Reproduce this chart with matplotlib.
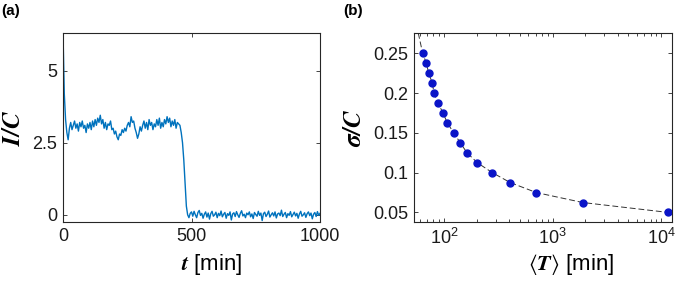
import numpy as np
import matplotlib
matplotlib.use("Agg")
import matplotlib.pyplot as plt
from matplotlib.ticker import LogLocator, NullFormatter

plt.rcParams['font.family'] = ['Liberation Sans', 'DejaVu Sans']
plt.rcParams['mathtext.fontset'] = 'stix'

# Panel (a): time series I/C, sampled every 5 min
t_step = 5
ic_values = [
    6.3, 4.2, 3.3, 2.85, 2.6, 3.0, 3.2, 2.95, 3.1, 3.25,
    3.0, 3.15, 2.9, 3.2, 3.05, 3.25, 3.0, 3.1, 2.85, 3.15,
    3.0, 3.2, 2.95, 3.25, 3.05, 3.3, 3.1, 3.35, 3.2, 3.45,
    3.15, 3.3, 3.0, 3.2, 2.95, 3.15, 3.1, 3.25, 2.95, 3.0,
    2.8, 2.9, 2.7, 2.6, 2.8, 2.75, 2.95, 2.85, 3.0, 2.9,
    3.1, 3.2, 3.05, 3.4, 3.2, 3.25, 3.0, 2.85, 2.65, 2.8,
    3.05, 2.9, 3.1, 3.25, 3.0, 3.2, 2.95, 3.3, 3.1, 3.2,
    2.95, 3.15, 3.05, 3.3, 3.1, 3.35, 3.0, 3.2, 3.05, 3.3,
    3.15, 3.4, 3.2, 3.35, 3.05, 3.25, 3.1, 3.3, 3.0, 3.2,
    3.15, 3.1, 2.85, 2.5, 1.9, 1.1, 0.3, 0.0, -0.1, 0.05,
    0.1, -0.05, 0.12, 0.0, -0.1, 0.08, 0.15, -0.02, 0.05, -0.12,
    0.02, 0.1, -0.08, 0.06, -0.15, 0.04, 0.12, -0.05, 0.0, 0.09,
    -0.1, 0.05, -0.03, 0.13, -0.07, 0.02, 0.08, -0.12, 0.04, -0.02,
    0.1, -0.18, 0.03, 0.07, -0.06, 0.11, 0.0, -0.09, 0.05, 0.14,
    -0.04, 0.02, -0.1, 0.06, 0.0, 0.1, -0.07, 0.03, -0.13, 0.08,
    0.01, -0.05, 0.12, -0.02, 0.06, -0.2, 0.04, 0.09, -0.06, 0.02,
    0.13, -0.08, 0.0, 0.07, -0.04, 0.1, -0.11, 0.03, 0.06, -0.03,
    0.16, -0.06, 0.02, 0.08, -0.1, 0.04, -0.02, 0.11, -0.07, 0.01,
    0.09, -0.04, 0.05, -0.12, 0.03, 0.12, -0.05, 0.0, 0.07, -0.09,
    0.04, 0.1, -0.03, 0.06, -0.14, 0.02, 0.08, -0.06, 0.11, -0.02,
    0.05,
]
t_values = [i * t_step for i in range(len(ic_values))]

# Panel (b): sigma/C vs mean period <T>
T_mean = [63.6, 68.7, 72.3, 78.0, 80.9, 88.1, 97.9, 107.3, 122.9, 141.3,
          162.9, 202.7, 278.8, 408.4, 709, 1896, 11670]
sigma_C = [0.25, 0.2375, 0.225, 0.2125, 0.2, 0.1875, 0.175, 0.1625, 0.15,
           0.1375, 0.125, 0.1125, 0.1, 0.0875, 0.075, 0.0625, 0.05]
# dashed guide curve
curve_T = [57.9] + T_mean + [12620]
curve_sigma = [0.2755] + sigma_C + [0.0495]

W, H = 677, 281
fig = plt.figure(figsize=(W / 100, H / 100), dpi=100)

def rect(l, t, r, b):
    return [l / W, 1 - b / H, (r - l) / W, (b - t) / H]

spine_col = '#262626'
tick_fs = 13

def style(ax):
    for s in ax.spines.values():
        s.set_color(spine_col)
        s.set_linewidth(0.8)
    ax.tick_params(direction='in', which='both', top=True, right=True,
                   labelsize=tick_fs, colors=spine_col, labelcolor='#1a1a1a',
                   length=3, width=0.6, pad=4)

# Panel (a)
axa = fig.add_axes(rect(63, 33, 320, 222))
axa.plot(t_values, ic_values, color='#0072BD', lw=1.0)
axa.set_xlim(0, 1000)
axa.set_ylim(-0.25, 6.3)
axa.set_xticks([0, 500, 1000])
axa.set_yticks([0, 2.5, 5])
axa.set_yticklabels(['0', '2.5', '5'])
style(axa)
axa.set_xlabel(r'$\mathbfit{t}$ [min]', fontsize=16)
axa.xaxis.set_label_coords((212 - 63) / (320 - 63), -(252 - 222) / (222 - 33))
axa.set_ylabel(r'$\mathbfit{I/C}$', fontsize=18)
axa.yaxis.set_label_coords(-(63 - 25) / (320 - 63), 0.5)

# Panel (b)
axb = fig.add_axes(rect(414, 33, 672, 222))
axb.plot(curve_T, curve_sigma, color='#333333', lw=0.7, ls=(0, (6, 3)))
axb.plot(T_mean, sigma_C, 'o', color='#0a14c8', ms=5, mec='#0a14c8')
axb.set_xscale('log')
axb.set_xlim(52.9, 12620)
axb.set_ylim(0.038, 0.2755)
axb.set_yticks([0.05, 0.1, 0.15, 0.2, 0.25])
axb.set_yticklabels(['0.05', '0.1', '0.15', '0.2', '0.25'])
axb.xaxis.set_major_locator(LogLocator(base=10, numticks=10))
axb.xaxis.set_minor_locator(LogLocator(base=10, subs=np.arange(2, 10), numticks=20))
axb.xaxis.set_minor_formatter(NullFormatter())
style(axb)
axb.tick_params(which='minor', length=2)
axb.set_xlabel(r'$\langle\mathbfit{T}\rangle$ [min]', fontsize=16)
axb.xaxis.set_label_coords((571 - 414) / (672 - 414), -(252 - 222) / (222 - 33))
axb.set_ylabel(r'$\mathbfit{\sigma/C}$', fontsize=18)
axb.yaxis.set_label_coords(-(414 - 366) / (672 - 414), 0.5)

fig.text(1 / W, 1 - 11 / H, '(a)', fontsize=11, fontweight='bold', va='center', ha='left')
fig.text(343 / W, 1 - 11 / H, '(b)', fontsize=11, fontweight='bold', va='center', ha='left')

fig.savefig('out.png', dpi=100)
